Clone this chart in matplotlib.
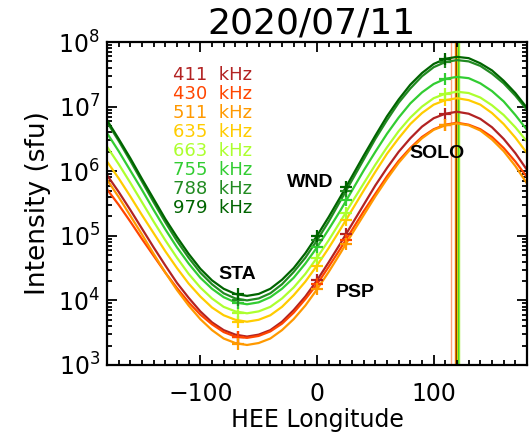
import numpy as np
import matplotlib
matplotlib.use("Agg")
import matplotlib.pyplot as plt
from matplotlib.ticker import MultipleLocator, LogLocator

# HEE longitude grid (deg) and log10 intensity (sfu)
lon = list(range(-180, 181, 10))

freqs = ["411", "430", "511", "635", "663", "755", "788", "979"]
colors = ["#b22222", "#ff4500", "#ff9900", "#ffcc00",
          "#adff2f", "#32cd32", "#228b22", "#006400"]

log_411 = [5.94, 5.68, 5.40, 5.11, 4.82, 4.54, 4.27, 4.04, 3.83, 3.66, 3.54, 3.47, 3.44,
           3.47, 3.54, 3.67, 3.85, 4.06, 4.31, 4.59, 4.88, 5.18, 5.48, 5.78, 6.05,
           6.30, 6.51, 6.69, 6.82, 6.89, 6.92, 6.89, 6.81, 6.68, 6.50, 6.28, 6.02]
log_430 = [5.72, 5.48, 5.22, 4.95, 4.69, 4.43, 4.19, 3.97, 3.78, 3.63, 3.51, 3.44, 3.42,
           3.45, 3.52, 3.64, 3.81, 4.02, 4.25, 4.52, 4.80, 5.09, 5.38, 5.65, 5.92,
           6.16, 6.36, 6.53, 6.65, 6.72, 6.75, 6.72, 6.65, 6.53, 6.36, 6.15, 5.91]
log_511 = [5.87, 5.60, 5.31, 5.02, 4.72, 4.43, 4.16, 3.92, 3.71, 3.54, 3.41, 3.34, 3.31,
           3.34, 3.41, 3.54, 3.71, 3.92, 4.17, 4.44, 4.73, 5.03, 5.32, 5.61, 5.88,
           6.13, 6.34, 6.51, 6.64, 6.71, 6.74, 6.71, 6.63, 6.49, 6.31, 6.08, 5.81]
log_635 = [6.15, 5.89, 5.61, 5.32, 5.04, 4.76, 4.50, 4.26, 4.06, 3.89, 3.77, 3.70, 3.67,
           3.70, 3.77, 3.90, 4.08, 4.29, 4.54, 4.81, 5.10, 5.40, 5.70, 5.99, 6.27,
           6.51, 6.73, 6.90, 7.03, 7.10, 7.13, 7.10, 7.03, 6.90, 6.73, 6.52, 6.28]
log_663 = [6.38, 6.11, 5.82, 5.52, 5.22, 4.93, 4.66, 4.41, 4.20, 4.03, 3.90, 3.83, 3.80,
           3.83, 3.90, 4.03, 4.20, 4.41, 4.66, 4.93, 5.22, 5.52, 5.81, 6.10, 6.37,
           6.62, 6.83, 7.00, 7.13, 7.20, 7.23, 7.21, 7.14, 7.02, 6.87, 6.68, 6.46]
log_755 = [6.59, 6.31, 6.01, 5.71, 5.40, 5.10, 4.82, 4.57, 4.35, 4.18, 4.05, 3.97, 3.94,
           3.97, 4.05, 4.18, 4.35, 4.57, 4.82, 5.10, 5.39, 5.70, 6.01, 6.30, 6.58,
           6.83, 7.05, 7.22, 7.35, 7.43, 7.46, 7.44, 7.36, 7.24, 7.08, 6.87, 6.64]
log_788 = [6.76, 6.47, 6.16, 5.84, 5.52, 5.21, 4.92, 4.66, 4.43, 4.25, 4.11, 4.03, 4.00,
           4.03, 4.11, 4.25, 4.44, 4.66, 4.93, 5.22, 5.54, 5.86, 6.18, 6.50, 6.79,
           7.06, 7.28, 7.47, 7.61, 7.69, 7.72, 7.70, 7.63, 7.51, 7.36, 7.17, 6.95]
log_979 = [6.79, 6.50, 6.20, 5.88, 5.57, 5.26, 4.98, 4.72, 4.49, 4.31, 4.18, 4.10, 4.07,
           4.10, 4.18, 4.32, 4.50, 4.73, 5.00, 5.29, 5.60, 5.92, 6.24, 6.55, 6.85,
           7.11, 7.34, 7.52, 7.66, 7.74, 7.77, 7.75, 7.67, 7.56, 7.40, 7.21, 6.98]
curves = [log_411, log_430, log_511, log_635, log_663, log_755, log_788, log_979]

# spacecraft longitudes and the curve values at each one
sc_lon = [-68, 0, 25, 109.5]
sc_411 = [3.44, 4.31, 5.03, 6.89]
sc_430 = [3.43, 4.25, 4.94, 6.72]
sc_511 = [3.32, 4.17, 4.87, 6.71]
sc_635 = [3.67, 4.54, 5.25, 7.10]
sc_663 = [3.80, 4.66, 5.36, 7.20]
sc_755 = [3.955, 4.82, 5.55, 7.43]
sc_788 = [4.01, 4.93, 5.70, 7.69]
sc_979 = [4.10, 5.00, 5.76, 7.74]
sc_vals = [sc_411, sc_430, sc_511, sc_635, sc_663, sc_755, sc_788, sc_979]

sc_names = ["STA", "WND", "PSP", "SOLO"]
sc_text_lon = [-68, -6, 33, 103]
sc_text_log = [4.40, 5.83, 4.13, 6.28]

# peak-longitude markers
vline_lon = [114.6, 118.6, 119.4, 120.2, 121.1, 121.9]
vline_col = ["#ffa07a", "#ff8c00", "#6b1a00", "#ffd700", "#32cd32", "#9aef30"]

fig = plt.figure(figsize=(5.31, 4.43), dpi=100)
ax = fig.add_axes([107 / 531, 78 / 443, 420 / 531, 323 / 443])

for x, c in zip(vline_lon, vline_col):
    ax.axvline(x, color=c, lw=1.0, zorder=1)

for vals, c in zip(curves, colors):
    ax.plot(lon, 10 ** np.array(vals), color=c, lw=1.6, zorder=2)

for vals, c in zip(sc_vals, colors):
    ax.plot(sc_lon, 10 ** np.array(vals), ls="none", marker="+",
            ms=9, mew=1.6, color=c, zorder=3)

for name, x, y in zip(sc_names, sc_text_lon, sc_text_log):
    ax.text(x, 10 ** y, name, ha="center", va="center", fontsize=14,
            fontweight="bold", family="Liberation Sans", color="black")

for i, (f, c) in enumerate(zip(freqs, colors)):
    ax.text(0.157, 0.898 - i * 0.0588, f + "  kHz", transform=ax.transAxes,
            ha="left", va="center", fontsize=13, color=c)

ax.set_yscale("log")
ax.set_xlim(-180, 180)
ax.set_ylim(1e3, 1e8)
ax.xaxis.set_major_locator(MultipleLocator(100))
ax.xaxis.set_minor_locator(MultipleLocator(10))
ax.yaxis.set_major_locator(LogLocator(base=10))
ax.yaxis.set_minor_locator(LogLocator(base=10, subs=np.arange(2, 10)))
ax.tick_params(which="both", direction="in", top=True, right=True, width=1.3)
ax.tick_params(which="major", length=7, labelsize=17)
ax.tick_params(which="minor", length=3.5)
ax.tick_params(axis="x", pad=12)
ax.tick_params(axis="y", pad=5)
for s in ax.spines.values():
    s.set_linewidth(1.6)

ax.set_xlabel("HEE Longitude", fontsize=17, labelpad=2)
ax.set_ylabel("Intensity (sfu)", fontsize=19, labelpad=5)
ax.set_title("2020/07/11", fontsize=26, pad=6, x=0.486)

fig.savefig("out.png", dpi=100)
